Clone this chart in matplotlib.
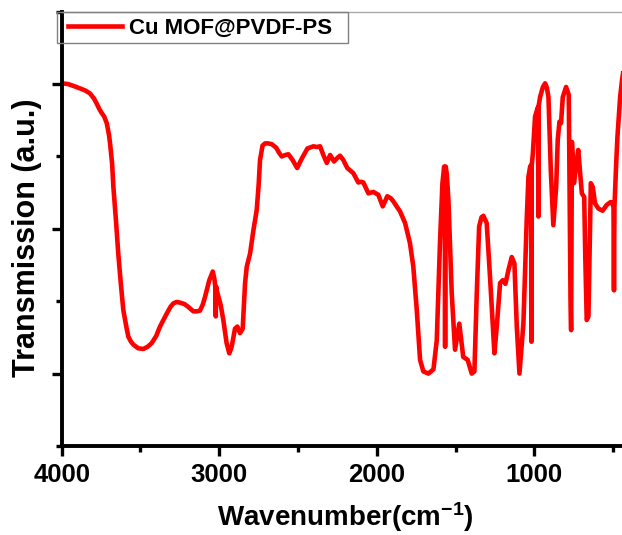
import numpy as np
import matplotlib
matplotlib.use('Agg')
import matplotlib.pyplot as plt
from matplotlib.patches import Rectangle

plt.rcParams['font.family'] = ['Liberation Sans', 'DejaVu Sans']
plt.rcParams['font.weight'] = 'bold'
plt.rcParams['mathtext.fontset'] = 'custom'
plt.rcParams['mathtext.rm'] = 'Liberation Sans:bold'
plt.rcParams['mathtext.bf'] = 'Liberation Sans:bold'
plt.rcParams['mathtext.default'] = 'bf'

# FTIR spectrum of the Cu MOF@PVDF-PS membrane (arbitrary transmission units)
wavenumber = [4000, 3960, 3920, 3884, 3850, 3820, 3795, 3778, 3760, 3746, 3730, 3714,
              3700, 3693, 3680, 3672, 3655, 3641, 3625, 3609, 3590, 3577, 3560, 3545,
              3515, 3482, 3455, 3429, 3400, 3376, 3350, 3333, 3310, 3291, 3270, 3249,
              3220, 3196, 3164, 3140, 3122, 3105, 3090, 3063, 3041, 3030, 3025, 3022,
              3019, 3016, 2991, 2974, 2953, 2936, 2921, 2900, 2885, 2868, 2851, 2836,
              2825, 2804, 2783, 2762, 2750, 2741, 2725, 2709, 2690, 2667, 2638, 2620,
              2603, 2580, 2561, 2534, 2505, 2476, 2440, 2402, 2380, 2360, 2339, 2317,
              2296, 2271, 2250, 2233, 2212, 2187, 2165, 2149, 2117, 2100, 2085, 2053,
              2022, 1990, 1962, 1933, 1910, 1895, 1852, 1820, 1789, 1768, 1746, 1725,
              1704, 1693, 1672, 1640, 1619, 1598, 1583, 1572, 1568, 1566, 1564, 1562,
              1555, 1545, 1524, 1503, 1476, 1451, 1423, 1397, 1380, 1365, 1350, 1335,
              1323, 1302, 1281, 1253, 1238, 1217, 1200, 1183, 1164, 1143, 1126, 1111,
              1094, 1069, 1048, 1037, 1026, 1020, 1018, 1016, 1009, 995, 980, 976,
              974, 972, 963, 945, 931, 920, 910, 895, 879, 861, 851, 840,
              830, 819, 798, 781, 776, 770, 766, 763, 761, 748, 735, 721,
              698, 683, 676, 667, 656, 648, 641, 629, 614, 593, 566, 540,
              515, 505, 497, 494, 491, 480, 472, 455, 443, 420, 400]
transmission = [5.01, 5.00, 4.97, 4.94, 4.91, 4.87, 4.80, 4.73, 4.65, 4.60, 4.55, 4.46,
                4.30, 4.18, 3.90, 3.58, 3.10, 2.66, 2.25, 1.88, 1.65, 1.51, 1.44, 1.40,
                1.35, 1.34, 1.37, 1.42, 1.52, 1.65, 1.76, 1.83, 1.92, 1.97, 1.99, 1.98,
                1.96, 1.92, 1.86, 1.86, 1.87, 1.95, 2.06, 2.29, 2.41, 2.30, 2.20, 1.79,
                2.20, 2.15, 1.95, 1.74, 1.42, 1.28, 1.37, 1.62, 1.65, 1.56, 1.62, 2.25,
                2.48, 2.66, 2.98, 3.26, 3.60, 3.95, 4.15, 4.18, 4.18, 4.17, 4.12, 4.05,
                4.00, 4.02, 4.03, 3.95, 3.84, 3.97, 4.11, 4.14, 4.13, 4.14, 4.02, 3.91,
                4.02, 3.93, 3.98, 4.01, 3.95, 3.84, 3.80, 3.77, 3.64, 3.65, 3.64, 3.49,
                3.51, 3.47, 3.31, 3.45, 3.42, 3.38, 3.24, 3.08, 2.80, 2.48, 1.88, 1.19,
                1.03, 1.02, 1.00, 1.06, 1.46, 2.84, 3.63, 3.86, 3.60, 1.37, 3.60, 3.86,
                3.75, 3.40, 2.11, 1.33, 1.69, 1.23, 1.19, 1.00, 1.03, 2.11, 3.03, 3.16,
                3.18, 3.08, 2.34, 1.28, 1.65, 2.25, 2.29, 2.24, 2.43, 2.61, 2.52, 1.65,
                1.00, 1.69, 3.12, 3.72, 3.86, 3.88, 1.44, 3.88, 4.04, 4.55, 4.66, 4.68,
                3.17, 4.70, 4.82, 4.96, 5.01, 4.95, 4.82, 3.81, 3.05, 3.58, 4.23, 4.48,
                4.46, 4.82, 4.96, 4.85, 3.50, 2.06, 1.60, 3.00, 4.20, 3.63, 3.86, 4.09,
                3.49, 3.44, 2.60, 1.74, 1.79, 2.80, 3.63, 3.58, 3.35, 3.28, 3.25, 3.33,
                3.37, 3.36, 3.30, 2.15, 3.30, 3.90, 4.27, 4.82, 5.05, 5.40, 5.60]

x_major = [4000, 3000, 2000, 1000]
x_minor = [3500, 2500, 1500, 500]
y_major = [1, 3, 5]
y_minor = [0, 2, 4, 6]

fig = plt.figure(figsize=(6.22, 5.35), dpi=100)
ax = fig.add_axes([0.0992, 0.1664, 0.9117, 0.8118])

ax.plot(wavenumber, transmission, color='#ff0000', lw=3.3,
        solid_joinstyle='round', label='Cu MOF@PVDF-PS')

ax.set_xlim(4000, 400)
ax.set_ylim(0, 6)
ax.set_xticks(x_major)
ax.set_xticks(x_minor, minor=True)
ax.set_yticks(y_major)
ax.set_yticks(y_minor, minor=True)
ax.set_yticklabels([])
ax.tick_params(which='major', direction='out', length=7, width=2.4, labelsize=18.5, pad=5)
ax.tick_params(which='minor', direction='out', length=4, width=2.4)
ax.tick_params(top=False, right=False, which='both')

for side in ['left', 'bottom']:
    ax.spines[side].set_linewidth(2.8)
ax.spines['top'].set_linewidth(1.0)
ax.spines['top'].set_color('#aaaaaa')
ax.spines['right'].set_visible(False)

ax.set_xlabel(r'Wavenumber(cm$^{-1}$)', fontsize=20, fontweight='bold', labelpad=10)
ax.set_ylabel('Transmission (a.u.)', fontsize=22, fontweight='bold')
ax.yaxis.set_label_coords(-0.035, 0.48)

leg = ax.legend(loc='center left', bbox_to_anchor=(68 / 622, 1 - 28 / 535),
                bbox_transform=fig.transFigure, frameon=False, borderpad=0,
                borderaxespad=0, handlelength=2.45, handletextpad=0.3,
                prop={'size': 16, 'weight': 'bold'})
fig.patches.append(Rectangle((57 / 622, 1 - 43 / 535), 291 / 622, 31 / 535,
                             transform=fig.transFigure, fill=False,
                             edgecolor='#808080', lw=1.0))

fig.savefig('out.png', dpi=100)
